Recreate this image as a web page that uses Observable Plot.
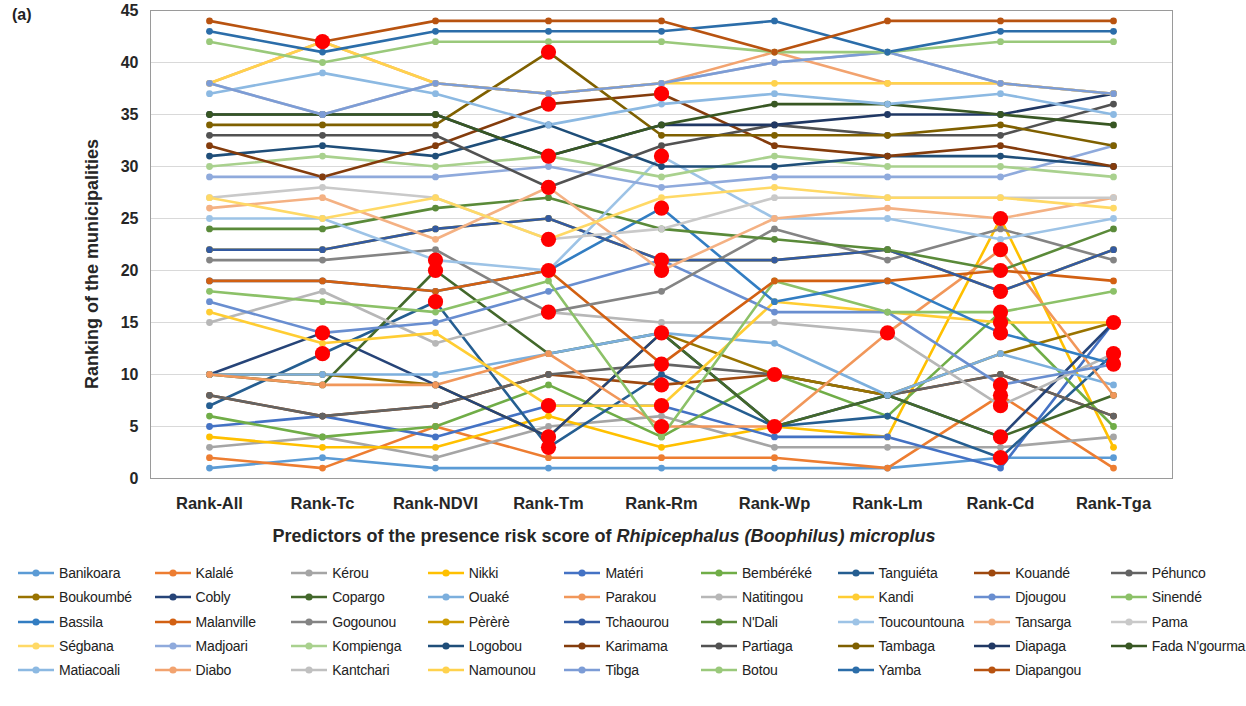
<!DOCTYPE html>
<html>
<head>
<meta charset="utf-8">
<script src="https://cdn.jsdelivr.net/npm/d3@7"></script>
<script src="https://cdn.jsdelivr.net/npm/@observablehq/plot@0.6"></script>
<style>
  body { margin: 0; background: #fff; font-family: "Liberation Sans", Arial, sans-serif; }
  #wrap { position: relative; width: 1246px; height: 706px; overflow: hidden; }
  #panel { position: absolute; left: 12px; top: 6px; font-weight: bold; font-size: 16px; color: #222; }
  #legend { position: absolute; left: 18px; top: 561px; display: grid;
            grid-template-columns: repeat(9, 136.6px); grid-auto-rows: 24.3px;
            font-size: 14px; letter-spacing: -0.2px; color: #222; }
  .item { display: flex; align-items: center; white-space: nowrap; }
  .item svg { margin-right: 5px; flex: none; }
</style>
</head>
<body>
<div id="wrap"><div id="panel">(a)</div><div id="legend"></div></div>
<script>
// Municipalities, in legend order
const municipalities = ["Banikoara","Kalalé","Kérou","Nikki","Matéri","Bembéréké","Tanguiéta","Kouandé","Péhunco",
  "Boukoumbé","Cobly","Copargo","Ouaké","Parakou","Natitingou","Kandi","Djougou","Sinendé",
  "Bassila","Malanville","Gogounou","Pèrèrè","Tchaourou","N'Dali","Toucountouna","Tansarga","Pama",
  "Ségbana","Madjoari","Kompienga","Logobou","Karimama","Partiaga","Tambaga","Diapaga","Fada N'gourma",
  "Matiacoali","Diabo","Kantchari","Namounou","Tibga","Botou","Yamba","Diapangou"];

// Series colours (office-style palette cycle)
const seriesColors = ["#5B9BD5","#ED7D31","#A5A5A5","#FFC000","#4472C4","#70AD47",
  "#255E91","#9E480E","#636363","#997300","#264478","#43682B",
  "#7CAFDD","#F1975A","#B7B7B7","#FFCD33","#698ED0","#8CC168",
  "#327DC2","#D26012","#848484","#CC9A00","#335AA1","#5A8A39",
  "#9DC3E6","#F4B183","#C9C9C9","#FFD966","#8FAADC","#A9D18E",
  "#1F4E79","#843C0C","#525252","#7F6000","#203864","#385723",
  "#8CB9E2","#F2A36F","#C0C0C0","#FFD24D","#7C9CD6","#9AC97B",
  "#2B6DA9","#B85310"];

// Predictors (x axis)
const predictors = ["Rank-All","Rank-Tc","Rank-NDVI","Rank-Tm","Rank-Rm","Rank-Wp","Rank-Lm","Rank-Cd","Rank-Tga"];

// Ranks of each municipality for each predictor (same order as municipalities)
const rankAll  = [1,2,3,4,5,6,7,8,8,10,10,10,10,10,15,16,17,18,19,19,21,22,22,24,25,26,27,27,29,30,31,32,33,34,35,35,37,38,38,38,38,42,43,44];
const rankTc   = [2,1,4,3,6,4,12,6,6,10,14,9,10,9,18,13,14,17,19,19,21,22,22,24,25,27,28,25,29,31,32,29,33,34,35,35,39,42,35,42,35,40,41,42];
const rankNDVI = [1,5,2,3,4,5,17,7,7,9,9,20,10,9,13,14,15,16,18,18,22,24,24,26,21,23,27,27,29,30,31,32,33,34,35,35,37,38,38,38,38,42,43,44];
const rankTm   = [1,2,5,6,7,9,3,10,10,4,4,12,12,12,16,7,18,19,20,20,16,25,25,27,20,28,23,23,30,31,34,36,28,41,31,31,34,37,37,37,37,42,43,44];
const rankRm   = [1,2,6,3,7,4,10,9,11,14,14,14,14,5,15,7,21,4,26,11,18,21,21,24,31,20,24,27,28,29,30,37,32,33,34,34,36,38,38,38,38,42,43,44];
const rankWp   = [1,2,3,5,4,10,5,10,10,10,5,5,13,5,15,17,16,19,17,19,24,21,21,23,25,25,27,28,29,31,30,32,34,33,34,36,37,41,40,38,40,41,44,41];
const rankLm   = [1,1,3,4,4,6,6,8,8,8,8,8,8,14,14,16,16,16,19,19,21,22,22,22,25,26,27,27,29,30,31,31,33,33,35,36,36,38,41,38,41,41,41,44];
const rankCd   = [2,8,3,25,1,16,2,10,10,12,4,4,12,22,7,15,9,16,14,20,24,18,18,20,23,25,27,27,29,30,31,32,33,34,35,35,37,38,38,38,38,42,43,44];
const rankTga  = [2,1,4,3,15,5,12,6,6,15,15,8,9,8,12,15,11,18,11,19,21,22,22,24,25,27,27,26,32,29,30,30,36,32,37,34,35,37,37,37,37,42,43,44];

// Highlighted ranks (red markers) per predictor
const highlightPredictor = ["Rank-Tc","Rank-Tc","Rank-Tc",
  "Rank-NDVI","Rank-NDVI","Rank-NDVI",
  "Rank-Tm","Rank-Tm","Rank-Tm","Rank-Tm","Rank-Tm","Rank-Tm","Rank-Tm","Rank-Tm","Rank-Tm","Rank-Tm",
  "Rank-Rm","Rank-Rm","Rank-Rm","Rank-Rm","Rank-Rm","Rank-Rm","Rank-Rm","Rank-Rm","Rank-Rm","Rank-Rm",
  "Rank-Wp","Rank-Wp","Rank-Lm",
  "Rank-Cd","Rank-Cd","Rank-Cd","Rank-Cd","Rank-Cd","Rank-Cd","Rank-Cd","Rank-Cd","Rank-Cd","Rank-Cd","Rank-Cd","Rank-Cd",
  "Rank-Tga","Rank-Tga","Rank-Tga"];
const highlightRank = [42,14,12,
  21,20,17,
  41,36,31,28,23,20,16,7,4,3,
  37,31,26,21,20,14,11,9,7,5,
  10,5,14,
  25,22,20,18,16,15,14,9,8,7,4,2,
  15,12,11];

const rankColumns = [rankAll, rankTc, rankNDVI, rankTm, rankRm, rankWp, rankLm, rankCd, rankTga];

// Long table: one row per municipality x predictor
const rows = [];
municipalities.forEach((name, i) => {
  predictors.forEach((p, j) => rows.push({name, predictor: p, rank: rankColumns[j][i]}));
});
const highlights = highlightPredictor.map((p, i) => ({predictor: p, rank: highlightRank[i]}));

const chart = Plot.plot({
  width: 1246,
  height: 552,
  marginLeft: 150,
  marginRight: 74,
  marginTop: 10,
  marginBottom: 74,
  style: {fontFamily: "'Liberation Sans', Arial, sans-serif", fontSize: "16px", fontWeight: "bold", color: "#262626", background: "#fff"},
  x: {type: "point", domain: predictors, padding: 0.5, label: null},
  y: {domain: [0, 45], label: null},
  color: {domain: municipalities, range: seriesColors},
  marks: [
    Plot.gridY({ticks: d3.range(5, 46, 5), stroke: "#d9d9d9", strokeOpacity: 1, strokeWidth: 1}),
    Plot.frame({stroke: "#9a9a9a", strokeWidth: 1}),
    Plot.line(rows, {x: "predictor", y: "rank", z: "name", stroke: "name", strokeWidth: 2.6}),
    Plot.dot(rows, {x: "predictor", y: "rank", fill: "name", r: 3.4}),
    Plot.dot(highlights, {x: "predictor", y: "rank", fill: "#ff0000", r: 7.6}),
    Plot.axisY({ticks: d3.range(0, 46, 5), tickSize: 0, tickPadding: 12, fontSize: 16, fontWeight: "bold"}),
    Plot.axisX({tickSize: 0, tickPadding: 19, fontSize: 16.5, fontWeight: "bold"})
  ]
});

document.getElementById("wrap").prepend(chart);

// Axis titles
const svg = d3.select(chart);
svg.append("text")
  .attr("transform", "translate(98,264) rotate(-90)")
  .attr("text-anchor", "middle")
  .attr("font-size", 18)
  .attr("font-weight", "bold")
  .attr("fill", "#262626")
  .text("Ranking of the municipalities");
const xt = svg.append("text")
  .attr("x", 604)
  .attr("y", 542)
  .attr("text-anchor", "middle")
  .attr("font-size", 18)
  .attr("font-weight", "bold")
  .attr("fill", "#262626");
xt.append("tspan").text("Predictors of the presence risk score of ");
xt.append("tspan").attr("font-style", "italic").text("Rhipicephalus (Boophilus) microplus");

// Legend
const legend = document.getElementById("legend");
municipalities.forEach((name, i) => {
  const item = document.createElement("div");
  item.className = "item";
  item.innerHTML = `<svg width="36" height="12"><line x1="0" y1="6" x2="36" y2="6" stroke="${seriesColors[i]}" stroke-width="2.6"/><circle cx="18" cy="6" r="3.6" fill="${seriesColors[i]}"/></svg><span>${name}</span>`;
  legend.appendChild(item);
});
</script>
</body>
</html>
